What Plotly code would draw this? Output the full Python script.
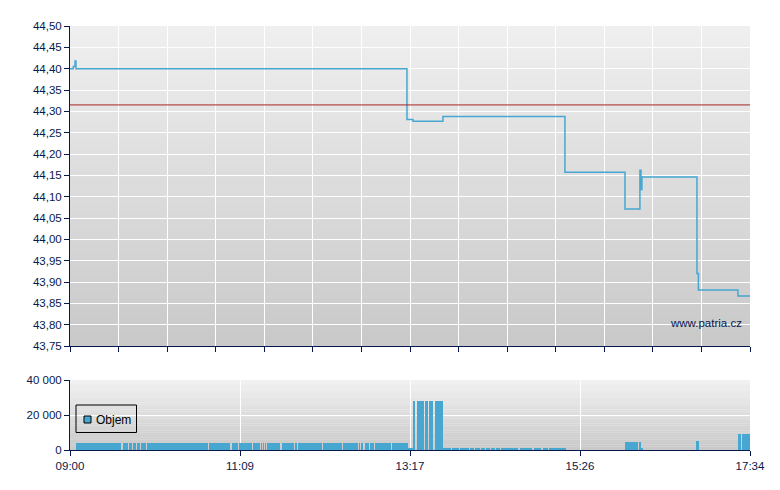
import plotly.graph_objects as go

# ---- data (minutes after 09:00) ----
price_min = [0, 2.5, 3.8, 4.5, 254.7, 259.3, 281.9, 374.1, 419.5, 430.8, 431.6, 432.3, 473.9, 475.0, 504.9, 514]
price_val = [44.40, 44.405, 44.418, 44.40, 44.281, 44.277, 44.288, 44.157, 44.071, 44.162, 44.117, 44.146, 43.92, 43.881, 43.867, 43.867]
prev_close = 44.315

vol_start = [4.5, 37.0, 40.1, 44.6, 47.6, 50.6, 53.7, 58.2, 105.1, 122.5, 127.7, 138.3, 144.4, 145.9, 147.4,
             149.0, 160.2, 170.1, 172.3, 191.3, 207.1, 208.6, 209.4, 218.5, 220.0, 223.0, 226.8, 229.0, 230.5, 243.4,
             255.5, 259.3, 262.3, 268.3, 271.4, 275.9, 277.4, 280.4,
             281.9, 288.7, 295.1, 298.0, 302.5, 306.3, 311.0, 314.5, 318.5, 322.0, 325.5, 340.0, 351.0, 357.5, 362.0,
             419.5, 430.0, 431.6, 473.9, 504.9, 508.0]
vol_end = [36.3, 38.5, 43.8, 46.9, 49.9, 52.9, 57.4, 104.3, 120.9, 127.0, 137.6, 143.6, 145.1, 146.6, 148.1,
           158.7, 169.3, 171.6, 190.5, 205.6, 207.9, 209.0, 217.7, 219.2, 221.5, 226.0, 228.3, 229.8, 242.6, 255.5,
           259.3, 260.8, 267.6, 270.6, 274.4, 276.7, 279.7, 281.9,
           288.0, 294.0, 297.5, 301.5, 305.5, 310.0, 313.5, 317.5, 321.5, 325.0, 338.5, 349.5, 356.0, 361.0, 374.9,
           429.3, 431.6, 433.1, 475.4, 507.2, 514.0]
vol_val = [4000] * 30 + [1000, 28000, 28000, 28000, 28000, 28000, 28000, 28000] + [600] * 15 + [4600, 4600, 1100, 5100, 9100, 9100]

x_labels = ["09:00", "11:09", "13:17", "15:26", "17:34"]
x_label_pos = [0, 128.5, 257, 385.5, 514]
legend_name = "Objem"

NAVY = "#06194a"
BLUE = "#47a7d0"
FONT = "Liberation Sans"

# page has an 8px body margin; compensate so the plot area sits at page x 70..750, y 26..450
PAGE_OFF = 8
L, R, T, B = 70 - PAGE_OFF, 30, 26 - PAGE_OFF, 40
W, Hfig = 780 - PAGE_OFF, 490 - PAGE_OFF
PW = W - L - R          # 680
PH = Hfig - T - B       # 424


def px_to_paper(px, py):
    return (px - 70) / PW, (450 - py) / PH


fig = go.Figure()

fig.add_trace(go.Scatter(x=price_min, y=price_val, mode="lines", line=dict(color=BLUE, width=1.5, shape="hv"),
                         showlegend=False, xaxis="x", yaxis="y", hoverinfo="skip"))

widths = [e - s for s, e in zip(vol_start, vol_end)]
fig.add_trace(go.Bar(x=vol_start, y=vol_val, width=widths, offset=0, marker=dict(color=BLUE, line=dict(width=0)),
                     name=legend_name, showlegend=False, xaxis="x2", yaxis="y2"))

top_bottom = (450 - 346) / PH
vol_top = (450 - 380) / PH

shapes = []


def gradient(xref, yref, c_top, c_bot, n=40):
    for i in range(n):
        t = i / (n - 1)
        c = round(c_bot + (c_top - c_bot) * t)
        shapes.append(dict(type="rect", xref=xref, yref=yref, x0=0, x1=1, y0=i / n, y1=min(1, (i + 1) / n + 0.004),
                           fillcolor=f"rgb({c},{c},{c})", line=dict(width=0), layer="below"))


gradient("x domain", "y domain", 239, 201)
gradient("x2 domain", "y2 domain", 240, 201)
shapes.append(dict(type="line", xref="x domain", yref="y", x0=0, x1=1, y0=prev_close, y1=prev_close,
                   line=dict(color="#a82424", width=1)))

# legend box drawn manually (matching the compact original)
bx0, by0 = px_to_paper(76, 405)
bx1, by1 = px_to_paper(136.5, 432.5)
shapes.append(dict(type="rect", xref="paper", yref="paper", x0=bx0, y0=by0, x1=bx1, y1=by1,
                   line=dict(color="black", width=1), fillcolor="rgba(0,0,0,0)"))
sx0, sy0 = px_to_paper(84, 416)
sx1, sy1 = px_to_paper(91, 423)
shapes.append(dict(type="rect", xref="paper", yref="paper", x0=sx0, y0=sy0, x1=sx1, y1=sy1,
                   line=dict(color="black", width=1), fillcolor=BLUE))
tx, ty = px_to_paper(94, 419.5)

axis_common = dict(showline=True, linecolor=NAVY, linewidth=1, ticks="outside", tickcolor=NAVY, ticklen=5,
                   showgrid=True, gridcolor="white", gridwidth=1.3, zeroline=False,
                   tickfont=dict(family=FONT, size=11.5, color=NAVY))

wx, wy = px_to_paper(744, 323)

fig.update_layout(
    width=W, height=Hfig,
    margin=dict(l=L, r=R, t=T, b=B),
    paper_bgcolor="white", plot_bgcolor="rgba(0,0,0,0)",
    separators=", ",
    showlegend=False,
    font=dict(family=FONT, size=11.5, color=NAVY),
    xaxis=dict(domain=[0, 1], range=[0, 514], anchor="y", tickmode="linear", tick0=0, dtick=514 / 14,
               showticklabels=False, **axis_common),
    yaxis=dict(domain=[top_bottom, 1], range=[43.75, 44.5], anchor="x", tickmode="linear", tick0=43.75, dtick=0.05,
               tickformat=".2f", **axis_common),
    xaxis2=dict(domain=[0, 1], range=[0, 514], anchor="y2", tickmode="array", tickvals=x_label_pos, ticktext=x_labels,
                **axis_common),
    yaxis2=dict(domain=[0, vol_top], range=[0, 40000], anchor="x2", tickmode="array", tickvals=[0, 20000, 40000],
                tickformat=",d", **axis_common),
    shapes=shapes,
    annotations=[
        dict(text="www.patria.cz", x=wx, y=wy, xref="paper", yref="paper",
             xanchor="right", yanchor="middle", showarrow=False,
             font=dict(family=FONT, size=11.5, color=NAVY)),
        dict(text=legend_name, x=tx, y=ty, xref="paper", yref="paper",
             xanchor="left", yanchor="middle", showarrow=False,
             font=dict(family=FONT, size=12, color="black")),
    ],
    bargap=0,
)

fig.write_html("out.html")
